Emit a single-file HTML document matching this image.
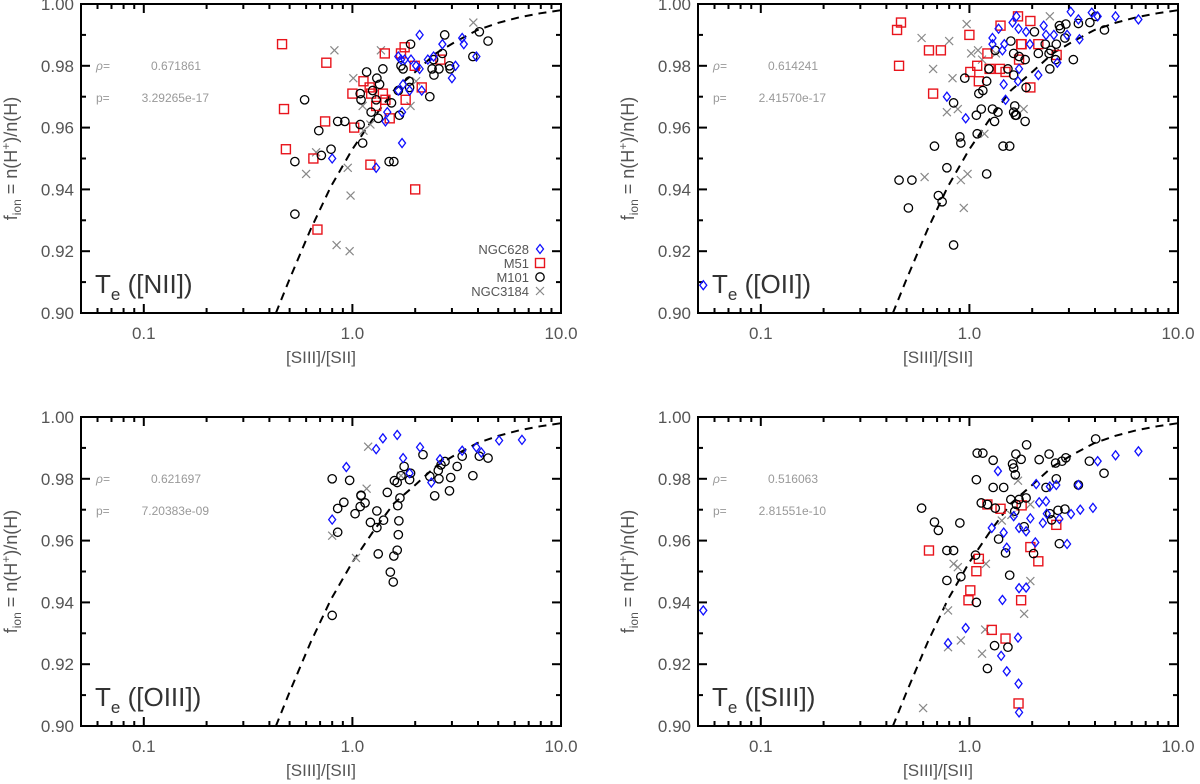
<!DOCTYPE html>
<html><head><meta charset="utf-8">
<style>
body{margin:0;background:#fff;}
svg{display:block;font-family:"Liberation Sans",sans-serif;}
</style></head>
<body>
<svg id="fig" width="1200" height="784" viewBox="0 0 1200 784" xmlns="http://www.w3.org/2000/svg"></svg>
<script>
const curveX=[0.43,0.5,0.63,0.79,1.0,1.26,1.58,2.0,2.51,3.16,3.98,5.01,6.31,7.94,10];
const curveY=[0.900,0.911,0.927,0.941,0.953,0.963,0.972,0.978,0.984,0.988,0.9916,0.9939,0.9957,0.997,0.998];
const yTicks=[0.90,0.92,0.94,0.96,0.98,1.00];
const yTickLabels=["0.90","0.92","0.94","0.96","0.98","1.00"];
const xTicks=[0.1,1,10];
const xTickLabels=["0.1","1.0","10.0"];

// Panel 1 ([NII])
const p1_m51_x=[0.46,0.75,0.47,0.74,0.48,0.65,0.68,1.0,1.13,1.02,1.21,1.23,1.30,1.40,1.43,1.44,1.51,1.22,1.71,1.78,1.8,1.99,2.15,2.0,2.64];
const p1_m51_y=[0.987,0.981,0.966,0.962,0.953,0.950,0.927,0.971,0.975,0.960,0.973,0.971,0.967,0.971,0.984,0.969,0.963,0.948,0.984,0.986,0.969,0.980,0.973,0.940,0.982];
const p1_m101_x=[0.53,0.53,0.59,0.69,0.71,0.79,0.85,0.92,1.09,1.10,1.09,1.12,1.17,1.25,1.23,1.31,1.35,1.30,1.33,1.40,1.54,1.5,1.58,1.66,1.68,1.71,1.75,1.87,1.90,1.88,2.35,2.45,2.46,2.41,2.6,2.7,2.77,2.92,2.94,3.78,4.06,4.47];
const p1_m101_y=[0.932,0.949,0.969,0.959,0.951,0.953,0.962,0.962,0.971,0.969,0.961,0.955,0.978,0.972,0.965,0.976,0.974,0.969,0.963,0.979,0.968,0.949,0.949,0.972,0.964,0.980,0.979,0.975,0.987,0.973,0.970,0.982,0.977,0.979,0.979,0.984,0.990,0.980,0.979,0.983,0.991,0.988];
const p1_n628_x=[0.8,1.3,1.73,1.66,1.71,1.78,1.75,1.66,1.73,1.47,1.44,1.91,2.02,2.1,2.1,1.88,2.15,2.30,2.45,2.7,3.0,3.12,3.36,3.42,3.93];
const p1_n628_y=[0.950,0.947,0.955,0.983,0.982,0.982,0.974,0.972,0.965,0.965,0.962,0.982,0.980,0.990,0.979,0.972,0.972,0.982,0.983,0.987,0.976,0.980,0.989,0.987,0.983];
const p1_n3184_x=[0.82,0.6,0.67,0.84,0.97,0.98,0.95,1.01,1.12,1.13,1.22,1.37,1.9,2.02,3.8];
const p1_n3184_y=[0.985,0.945,0.952,0.922,0.920,0.938,0.947,0.976,0.967,0.959,0.961,0.985,0.967,0.975,0.994];

// Panel 2 ([OII])
const p2_m51_x=[0.45,0.47,0.46,0.64,0.73,0.67,1.0,1.01,1.09,1.11,1.22,1.25,1.40,1.41,1.49,1.71,1.78,1.77,1.73,1.96,1.96,2.14,2.62];
const p2_m51_y=[0.9916,0.994,0.980,0.985,0.985,0.971,0.990,0.978,0.980,0.975,0.984,0.979,0.979,0.993,0.978,0.996,0.987,0.987,0.982,0.9945,0.973,0.987,0.9835];
const p2_m101_x=[0.46,0.53,0.51,0.68,0.71,0.74,0.78,0.84,0.84,0.90,0.91,0.95,1.09,1.08,1.11,1.14,1.16,1.21,1.21,1.24,1.29,1.32,1.33,1.37,1.45,1.56,1.53,1.58,1.63,1.63,1.63,1.66,1.65,1.68,1.73,1.85,1.87,1.85,2.05,2.14,2.31,2.41,2.43,2.46,2.59,2.61,2.70,2.73,2.9,2.87,3.15,3.33,3.78,4.03,4.44];
const p2_m101_y=[0.943,0.943,0.934,0.954,0.938,0.936,0.947,0.922,0.968,0.957,0.955,0.976,0.958,0.964,0.971,0.966,0.972,0.945,0.975,0.979,0.966,0.962,0.985,0.965,0.954,0.954,0.979,0.988,0.984,0.977,0.965,0.964,0.967,0.964,0.983,0.962,0.973,0.982,0.991,0.984,0.987,0.984,0.979,0.985,0.982,0.987,0.993,0.992,0.9935,0.989,0.982,0.9937,0.994,0.996,0.9916];
const p2_n628_x=[0.053,0.78,0.96,1.29,1.29,1.38,1.46,1.44,1.47,1.49,1.61,1.68,1.71,1.72,1.73,1.87,1.95,2.14,2.27,2.33,2.54,2.64,2.94,3.06,3.33,3.37,3.86,4.12,5.02,6.46];
const p2_n628_y=[0.909,0.970,0.963,0.989,0.987,0.992,0.974,0.985,0.987,0.969,0.994,0.996,0.975,0.992,0.979,0.991,0.987,0.977,0.993,0.990,0.990,0.981,0.990,0.9975,0.995,0.9886,0.9972,0.996,0.996,0.995];
const p2_n3184_x=[0.59,0.61,0.67,0.78,0.80,0.83,0.88,0.91,0.94,0.97,0.98,1.02,1.10,1.18,1.15,1.34,1.82,2.43];
const p2_n3184_y=[0.989,0.944,0.979,0.965,0.988,0.976,0.966,0.943,0.934,0.9935,0.945,0.984,0.985,0.958,0.982,0.984,0.966,0.996];

// Panel 3 ([OIII])
const p3_m51_x=[];const p3_m51_y=[];
const p3_m101_x=[0.80,0.97,0.91,0.85,0.85,0.80,1.03,1.10,1.10,1.09,1.15,1.22,1.31,1.31,1.41,1.33,1.47,1.58,1.52,1.57,1.64,1.66,1.67,1.65,1.69,1.59,1.64,1.71,1.77,1.88,1.90,2.18,2.35,2.48,2.6,2.58,2.66,2.78,2.92,2.96,3.18,3.36,3.78,4.06,4.47];
const p3_m101_y=[0.980,0.9795,0.9724,0.9704,0.9627,0.9358,0.9687,0.9747,0.9745,0.971,0.9722,0.9659,0.9696,0.9642,0.9666,0.9557,0.9756,0.955,0.9498,0.9466,0.9569,0.9619,0.9664,0.9713,0.9738,0.9794,0.9788,0.981,0.984,0.9797,0.9818,0.9878,0.9808,0.9745,0.980,0.9827,0.9845,0.9856,0.9761,0.9804,0.984,0.9873,0.981,0.9873,0.9867];
const p3_n628_x=[0.80,0.935,1.30,1.40,1.64,1.75,2.11,2.39,2.63,1.88,3.36,3.93,4.15,5.05,6.5];
const p3_n628_y=[0.9668,0.9838,0.9896,0.9931,0.9942,0.9867,0.9902,0.9788,0.9863,0.9818,0.9891,0.9902,0.9885,0.9924,0.9926];
const p3_n3184_x=[1.19,1.17,0.8,1.04,1.71];
const p3_n3184_y=[0.9904,0.9768,0.9616,0.9544,0.981];

// Panel 4 ([SIII])
const p4_m51_x=[0.64,1.11,1.08,1.01,0.99,1.22,1.41,1.78,1.96,2.14,2.61,1.77,1.28,1.49,1.72];
const p4_m51_y=[0.9568,0.9541,0.9501,0.9439,0.9407,0.9717,0.9703,0.9714,0.9579,0.9533,0.9651,0.9407,0.9311,0.9283,0.9073];
const p4_m101_x=[0.59,0.68,0.71,0.90,0.78,0.84,0.78,0.91,1.08,1.08,1.09,1.16,1.14,1.22,1.33,1.07,1.30,1.30,1.46,1.38,1.49,1.56,1.32,1.53,1.22,1.58,1.63,1.61,1.67,1.77,1.66,1.65,1.68,1.73,1.87,1.83,1.88,2.03,2.16,2.33,2.41,2.43,2.48,2.61,2.59,2.66,2.70,2.78,2.90,2.87,3.33,3.76,4.03,4.42];
const p4_m101_y=[0.9705,0.966,0.9633,0.9657,0.9568,0.9568,0.9471,0.9483,0.940,0.9797,0.9883,0.9883,0.9722,0.9717,0.9705,0.9553,0.986,0.9772,0.9772,0.9605,0.956,0.9488,0.926,0.9255,0.9186,0.9733,0.9835,0.9848,0.988,0.9863,0.9813,0.9695,0.9717,0.9733,0.9738,0.9645,0.991,0.9558,0.9862,0.9772,0.988,0.9687,0.9667,0.98,0.9851,0.9698,0.959,0.9857,0.9868,0.9702,0.978,0.9857,0.9929,0.9818];
const p4_n628_x=[0.053,1.37,1.28,1.46,1.51,1.63,1.73,1.87,1.96,2.07,2.09,2.16,2.33,2.25,2.35,2.43,2.61,2.70,2.94,3.07,3.33,3.40,3.91,4.12,5.02,6.46,1.73,1.87,1.44,0.96,0.79,1.42,1.51,1.71,1.72,1.73];
const p4_n628_y=[0.9374,0.9825,0.9641,0.9626,0.9577,0.9679,0.9641,0.963,0.9672,0.9594,0.9783,0.9724,0.9727,0.9657,0.9687,0.9775,0.978,0.967,0.9589,0.9686,0.978,0.970,0.9706,0.9857,0.9876,0.9889,0.9446,0.9448,0.9408,0.9317,0.9268,0.9227,0.9177,0.9286,0.9137,0.9044];
const p4_n3184_x=[0.60,0.79,0.79,0.91,0.84,0.88,1.15,1.19,1.20,1.43,1.71,1.96,1.96,1.83,1.59];
const p4_n3184_y=[0.9058,0.9374,0.9255,0.9277,0.9525,0.9514,0.9234,0.9312,0.9525,0.9665,0.9794,0.9717,0.9469,0.9363,0.9683];

const panels=[
 {id:'nii',label:'[NII]',x0:81,x1:561,y0:4,y1:313,rho:'0.671861',p:'3.29265e-17',legend:true,
  m51:[p1_m51_x,p1_m51_y],m101:[p1_m101_x,p1_m101_y],n628:[p1_n628_x,p1_n628_y],n3184:[p1_n3184_x,p1_n3184_y]},
 {id:'oii',label:'[OII]',x0:698,x1:1178,y0:4,y1:313,rho:'0.614241',p:'2.41570e-17',
  m51:[p2_m51_x,p2_m51_y],m101:[p2_m101_x,p2_m101_y],n628:[p2_n628_x,p2_n628_y],n3184:[p2_n3184_x,p2_n3184_y]},
 {id:'oiii',label:'[OIII]',x0:81,x1:561,y0:417,y1:726,rho:'0.621697',p:'7.20383e-09',
  m51:[p3_m51_x,p3_m51_y],m101:[p3_m101_x,p3_m101_y],n628:[p3_n628_x,p3_n628_y],n3184:[p3_n3184_x,p3_n3184_y]},
 {id:'siii',label:'[SIII]',x0:698,x1:1178,y0:417,y1:726,rho:'0.516063',p:'2.81551e-10',
  m51:[p4_m51_x,p4_m51_y],m101:[p4_m101_x,p4_m101_y],n628:[p4_n628_x,p4_n628_y],n3184:[p4_n3184_x,p4_n3184_y]}
];

const NS='http://www.w3.org/2000/svg';
const svg=document.getElementById('fig');
function mk(tag,attrs,parent){const e=document.createElementNS(NS,tag);for(const k in attrs)e.setAttribute(k,attrs[k]);(parent||svg).appendChild(e);return e;}
const XMIN=Math.log10(0.05),XMAX=1;

panels.forEach(P=>{
 const g=mk('g',{});
 
 
 const sx=v=>P.x0+(Math.log10(v)-XMIN)/(XMAX-XMIN)*(P.x1-P.x0);
 const sy=v=>P.y1-(v-0.9)/0.1*(P.y1-P.y0);
 const fr=mk('rect',{x:P.x0,y:P.y0,width:P.x1-P.x0,height:P.y1-P.y0,fill:'none',stroke:'#000','stroke-width':2},g);
 
 
 for(let i=0;i<=10;i++){
  const v=0.9+i*0.01, y=sy(v), L=(i%2==0)?9:5;
  mk('line',{x1:P.x0,y1:y,x2:P.x0+L,y2:y,stroke:'#000','stroke-width':2},g);
  mk('line',{x1:P.x1,y1:y,x2:P.x1-L,y2:y,stroke:'#000','stroke-width':2},g);
 }
 yTicks.forEach((v,i)=>{
  const t=mk('text',{x:P.x0-7,y:sy(v)+6,'text-anchor':'end','font-size':17,fill:'#555'},g);
  t.textContent=yTickLabels[i];
  
  
 });
 [0.01,0.1,1].forEach(dec=>{for(let m=1;m<=9;m++){const v=dec*m; if(v<0.05||v>10)continue; const x=sx(v),L=(m==1)?9:5;
  mk('line',{x1:x,y1:P.y1,x2:x,y2:P.y1-L,stroke:'#000','stroke-width':2},g);
  mk('line',{x1:x,y1:P.y0,x2:x,y2:P.y0+L,stroke:'#000','stroke-width':2},g);}});
 xTicks.forEach((v,i)=>{
  const t=mk('text',{x:sx(v),y:P.y1+26,'text-anchor':'middle','font-size':17,fill:'#555'},g);
  t.textContent=xTickLabels[i];
  
  
 });
 const xt=mk('text',{x:(P.x0+P.x1)/2,y:P.y1+50,'text-anchor':'middle','font-size':17,fill:'#555'},g);
 xt.textContent='[SIII]/[SII]';
 
 
 const yt=mk('text',{transform:`translate(${P.x0-64},${(P.y0+P.y1)/2}) rotate(-90)`,'text-anchor':'middle','font-size':18,fill:'#555'},g);
 yt.innerHTML='f<tspan font-size="12" dy="4">ion</tspan><tspan dy="-4">  =  n(H</tspan><tspan font-size="12" dy="-7">+</tspan><tspan dy="7">)/n(H)</tspan>';
 
 
 const st=mk('g',{fill:'#999','font-size':12},g);
 
 
 mk('text',{x:P.x0+15,y:P.y0+66,'font-style':'italic'},st).textContent='ρ=';
 mk('text',{x:P.x0+120,y:P.y0+66,'text-anchor':'end'},st).textContent=P.rho;
 mk('text',{x:P.x0+15,y:P.y0+98},st).textContent='p=';
 mk('text',{x:P.x0+128,y:P.y0+98,'text-anchor':'end'},st).textContent=P.p;
 const pl=mk('text',{x:P.x0+14,y:P.y1-20,'font-size':26,fill:'#333'},g);
 pl.innerHTML='T<tspan font-size="17" dy="7">e</tspan><tspan dy="-7"> (</tspan>'+P.label+')';
 
 
 const clip='clip-'+P.id;
 const cp=mk('clipPath',{id:clip},g); mk('rect',{x:P.x0,y:P.y0,width:P.x1-P.x0,height:P.y1-P.y0},cp);
 const d=curveX.map((v,i)=>(i?'L':'M')+sx(v).toFixed(1)+','+sy(curveY[i]).toFixed(1)).join(' ');
 const cv=mk('path',{d:d,fill:'none',stroke:'#000','stroke-width':2,'stroke-dasharray':'8,6','clip-path':`url(#${clip})`},g);
 
 
 const drawSym=(type,x,y,parent)=>{
  if(type=='m51') return mk('rect',{x:x-4.5,y:y-4.5,width:9,height:9,fill:'none',stroke:'#e8141c','stroke-width':1.4},parent);
  if(type=='m101') return mk('circle',{cx:x,cy:y,r:4.2,fill:'none',stroke:'#000','stroke-width':1.3},parent);
  if(type=='n628') return mk('path',{d:`M${x},${y-4.5} L${x+3.5},${y} L${x},${y+4.5} L${x-3.5},${y} Z`,fill:'none',stroke:'#1010ff','stroke-width':1.3},parent);
  return mk('path',{d:`M${x-4},${y-4} L${x+4},${y+4} M${x-4},${y+4} L${x+4},${y-4}`,stroke:'#888','stroke-width':1.2},parent);
 };
 ['n3184','m51','m101','n628'].forEach(s=>{
  const sg=mk('g',{'clip-path':`url(#${clip})`},g);
  
  
  const [xs,ys]=P[s];
  xs.forEach((v,i)=>{
   const m=drawSym(s,sx(v),sy(ys[i]),sg);
   
   
  });
 });
 if(P.legend){
  const lg=mk('g',{},g);
  
  
  [['NGC628','n628'],['M51','m51'],['M101','m101'],['NGC3184','n3184']].forEach((e,i)=>{
   const y=P.y0+245+i*14;
   const t=mk('text',{x:P.x1-32,y:y+5,'text-anchor':'end','font-size':13,fill:'#555'},lg);
   t.textContent=e[0];
   
   
   drawSym(e[1],P.x1-21,y,lg);
  });
 }
});
</script>
</body></html>
